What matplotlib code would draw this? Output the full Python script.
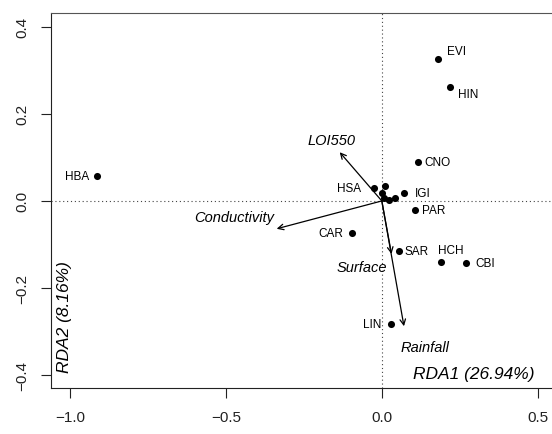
import numpy as np
import matplotlib
matplotlib.use("Agg")
import matplotlib.pyplot as plt

plt.rcParams['font.family'] = ['Liberation Sans', 'DejaVu Sans']

# site scores (RDA1, RDA2)
sites = ['HBA', 'EVI', 'HIN', 'CNO', 'HSA', 'IGI', 'PAR', 'CAR', 'SAR',
         'HCH', 'CBI', 'LIN', '', '', '', '', '']
rda1 = [-0.914, 0.179, 0.218, 0.116, -0.025, 0.071, 0.106, -0.095, 0.054,
        0.190, 0.271, 0.029, 0.009, -0.001, 0.006, 0.023, 0.042]
rda2 = [0.057, 0.326, 0.262, 0.089, 0.030, 0.018, -0.020, -0.074, -0.115,
        -0.141, -0.143, -0.283, 0.034, 0.018, 0.006, 0.003, 0.007]

# environmental vectors
env = ['LOI550', 'Conductivity', 'Surface', 'Rainfall']
env_x = [-0.135, -0.337, 0.031, 0.071]
env_y = [0.112, -0.064, -0.122, -0.288]

# label placement (offset in points, horizontal alignment)
site_pos = {'HBA': (-5, 0, 'right'), 'EVI': (6.5, 6, 'left'),
            'HIN': (5.8, -5, 'left'), 'CNO': (4.3, 0, 'left'),
            'HSA': (-9, 0, 'right'), 'IGI': (8, 0, 'left'),
            'PAR': (5, 0, 'left'), 'CAR': (-6.5, 0, 'right'),
            'SAR': (4.3, 0, 'left'), 'HCH': (-2, 8.6, 'left'),
            'CBI': (6.5, 0, 'left'), 'LIN': (-6.5, 0, 'right')}
env_pos = {'LOI550': (-6, 8.9, 'center'), 'Conductivity': (-2, 8.6, 'right'),
           'Surface': (-3.4, -9.4, 'right'), 'Rainfall': (15, -15, 'center')}

fig = plt.figure(figsize=(5.52, 4.35), dpi=100)
ax = fig.add_axes([50.5 / 552, 1 - 389 / 435, 518.5 / 552, 375 / 435])
ax.set_xlim(-1.062, 0.60)
ax.set_ylim(-0.430, 0.432)

# dotted zero lines
ax.axhline(0, ls=(0, (1, 2.5)), color='#444444', lw=0.8, zorder=1)
ax.axvline(0, ls=(0, (1, 2.5)), color='#444444', lw=0.8, zorder=1)

ax.scatter(rda1, rda2, s=26, color='black', zorder=3, linewidths=0)
for name, x, y in zip(sites, rda1, rda2):
    if not name:
        continue
    dx, dy, ha = site_pos[name]
    ax.annotate(name, (x, y), xytext=(dx, dy), textcoords='offset points',
                ha=ha, va='center', fontsize=8.5)

# biplot arrows
for name, x, y in zip(env, env_x, env_y):
    ax.annotate('', xy=(x, y), xytext=(0, 0),
                arrowprops=dict(arrowstyle='->', color='black', lw=0.9,
                                shrinkA=0, shrinkB=0, mutation_scale=10))
    dx, dy, ha = env_pos[name]
    ax.annotate(name, (x, y), xytext=(dx, dy), textcoords='offset points',
                ha=ha, va='center', fontsize=10.5, style='italic')

ax.annotate('RDA1 (26.94%)', xy=(473.3, 435 - 375), xycoords='figure pixels',
            ha='center', va='center', fontsize=12.5, style='italic')
ax.annotate('RDA2 (8.16%)', xy=(65, 435 - 317), xycoords='figure pixels',
            ha='center', va='center', fontsize=12.5, style='italic',
            rotation=90)

ax.set_xticks([-1.0, -0.5, 0.0, 0.5])
ax.set_yticks([-0.4, -0.2, 0.0, 0.2, 0.4])
ax.tick_params(axis='both', direction='out', length=7.5, width=0.8,
               labelsize=11, colors='#222222', pad=8)
ax.tick_params(axis='y', labelrotation=90)
for lab in ax.get_yticklabels():
    lab.set_va('center')
ax.spines['right'].set_visible(False)
for s in ['left', 'bottom']:
    ax.spines[s].set_linewidth(0.8)
    ax.spines[s].set_color('#222222')
ax.spines['top'].set_linewidth(0.8)
ax.spines['top'].set_color('#555555')

fig.savefig('out.png', dpi=100)
